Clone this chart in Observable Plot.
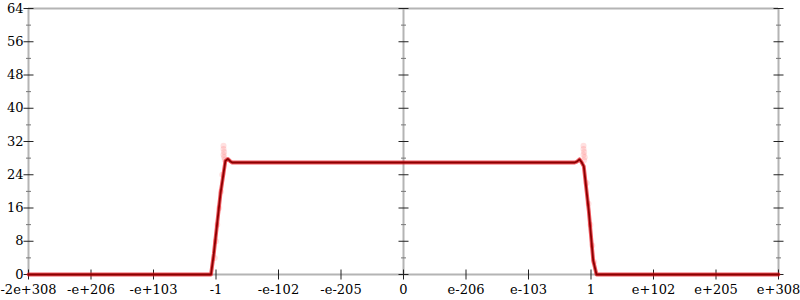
<!DOCTYPE html>
<html>
<head>
<meta charset="utf-8">
<script src="https://cdn.jsdelivr.net/npm/d3@7"></script>
<script src="https://cdn.jsdelivr.net/npm/@observablehq/plot@0.6"></script>
<style>
  html, body { margin: 0; padding: 0; background: #fff; }
  #chart svg { display: block; }
</style>
</head>
<body>
<div id="chart"></div>
<script>
// x positions are in "tick units" of the flonum-ordinal axis
const xTickPos = [-6, -5, -4, -3, -2, -1, 0, 1, 2, 3, 4, 5, 6];
const xTickLabels = ["-2e+308", "-e+206", "-e+103", "-1", "-e-102", "-e-205", "0", "e-206", "e-103", "1", "e+102", "e+205", "e+308"];
const yMajorTicks = [0, 8, 16, 24, 32, 40, 48, 56, 64];
const yMinorTicks = [4, 12, 20, 28, 36, 44, 52, 60];
const axisXs = [-6, 0, 6];

// main curve
const lineX = [-6, -3.08, -3.035, -2.928, -2.85, -2.81, -2.77, -2.74, 2.74, 2.78, 2.816, 2.85, 2.885, 2.965, 3.035, 3.088, 6];
const lineY = [0, 0, 5.0, 19.5, 27.3, 27.8, 27.2, 26.95, 26.95, 27.2, 27.7, 27.0, 26.0, 15.2, 3.4, 0, 0];

// faint scattered samples
const dotsX = [-2.88, -2.88, -2.87, -2.88, -2.87, -2.86, -2.9, -2.92, -2.95, -2.98, -3.0, -3.02, 2.88, 2.88, 2.89, 2.88, 2.9, 2.89, 2.93, 2.96, 2.99, 3.02, 3.05];
const dotsY = [31, 30.2, 29.5, 28.8, 28.2, 27.6, 24, 20, 16, 12, 8, 4, 31, 30.2, 29.5, 28.8, 28.2, 27.5, 22, 17, 12, 7, 3];

const line = lineX.map((x, i) => ({x, y: lineY[i]}));
const dots = dotsX.map((x, i) => ({x, y: dotsY[i]}));

const hTick = len => ({draw(ctx) { ctx.moveTo(-len / 2, 0); ctx.lineTo(len / 2, 0); }});
const vTick = len => ({draw(ctx) { ctx.moveTo(0, -len / 2); ctx.lineTo(0, len / 2); }});

const yMajorGrid = axisXs.flatMap(x => yMajorTicks.map(y => ({x, y})));
const yMinorGrid = axisXs.flatMap(x => yMinorTicks.map(y => ({x, y})));
const xTickData = xTickPos.map(x => ({x, y: 0}));

const chart = Plot.plot({
  width: 800,
  height: 300,
  marginLeft: 28,
  marginRight: 22,
  marginTop: 8,
  marginBottom: 26,
  style: {fontFamily: "DejaVu Serif", fontSize: "13px", color: "#000", background: "#fff", overflow: "visible"},
  x: {domain: [-6, 6]},
  y: {domain: [0, 64]},
  marks: [
    Plot.ruleX(axisXs, {stroke: "#b4b4b4", strokeWidth: 2}),
    Plot.ruleY([0, 64], {stroke: "#b4b4b4", strokeWidth: 2}),
    Plot.dot(yMajorGrid, {x: "x", y: "y", symbol: hTick(10), stroke: "#222", strokeWidth: 1, fill: "none"}),
    Plot.dot(yMinorGrid, {x: "x", y: "y", symbol: hTick(5), stroke: "#777", strokeWidth: 1, fill: "none"}),
    Plot.dot(xTickData, {x: "x", y: "y", symbol: vTick(10), stroke: "#222", strokeWidth: 1, fill: "none"}),
    Plot.axisY({ticks: yMajorTicks, tickSize: 0, tickPadding: 5, label: null}),
    Plot.axisX({ticks: xTickPos, tickSize: 0, tickPadding: 10, label: null,
      tickFormat: v => xTickLabels[xTickPos.indexOf(v)]}),
    Plot.dot(dots, {x: "x", y: "y", r: 3, fill: "#ff4040", fillOpacity: 0.16, stroke: "none"}),
    Plot.line(line, {x: "x", y: "y", stroke: "#e8101a", strokeWidth: 3.8, strokeOpacity: 0.7}),
    Plot.line(line, {x: "x", y: "y", stroke: "#8b0000", strokeWidth: 1.8})
  ]
});
document.getElementById("chart").appendChild(chart);
</script>
</body>
</html>
